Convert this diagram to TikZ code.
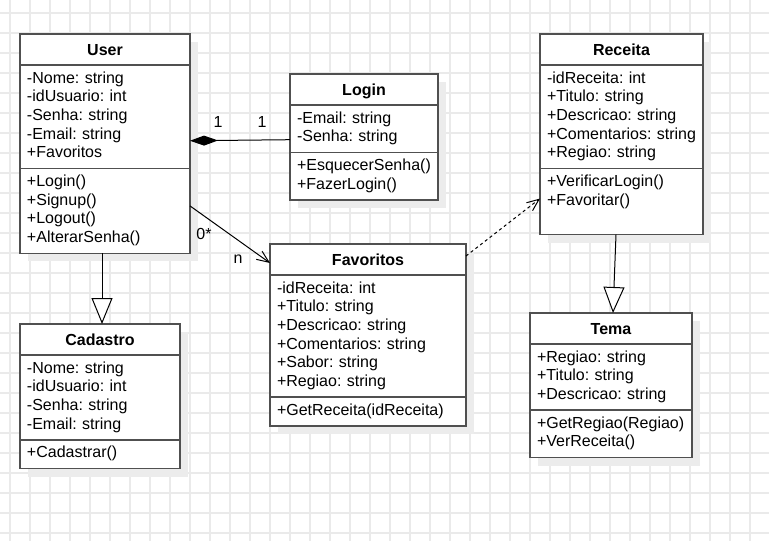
\documentclass[tikz,border=0pt]{standalone}
\usepackage{fontspec}
\setmainfont{Liberation Sans}
\usepackage{xcolor}
\usepackage{tikz}
\usetikzlibrary{positioning,shadows,arrows.meta}
\definecolor{gridgray}{RGB}{234,234,234}
\definecolor{boxgray}{RGB}{80,80,80}
\definecolor{shadowgray}{RGB}{236,236,236}
\def\umlfont{\fontsize{16pt}{18.7pt}\selectfont\frenchspacing}
\tikzset{
  classbox/.style={draw=boxgray, fill=white, line width=1.5pt, outer sep=0pt,
    inner xsep=7pt, execute at begin node=\strut, execute at end node=\strut,
    drop shadow={shadow xshift=8pt, shadow yshift=-8pt, fill=shadowgray, opacity=1}},
  classhead/.style={classbox, text width=#1, align=center, minimum height=31pt,
    inner ysep=0pt, text height=13pt, text depth=2pt, font=\umlfont\bfseries},
  classpart/.style={classbox, text width=#1, align=left, inner ysep=5pt, font=\umlfont},
  gridline/.style={draw=gridgray, line width=1.2pt},
  link/.style={draw=black, line width=1pt},
  assoc/.style={link, -{Straight Barb[length=12pt,width=10pt]}},
  depend/.style={assoc, dash pattern=on 3pt off 3pt},
  compos/.style={link, -{Diamond[length=28pt,width=10pt]}},
  inherit/.style={link, -{Triangle[length=26pt,width=21pt,fill=white]}},
  mult/.style={font=\umlfont, inner sep=0pt}
}
\begin{document}
\begin{tikzpicture}[x=1pt,y=-1pt]
  \useasboundingbox (0,0) rectangle (769,541);
  \fill[white] (0,0) rectangle (769,541);
  \foreach \gx in {10,30,...,750} \draw[gridline] (\gx,0) -- (\gx,541);
  \foreach \gy in {13,33,...,533} \draw[gridline] (0,\gy) -- (769,\gy);

  \node[classhead=156pt, anchor=north west] (user) at (20,34) {User};
  \node[classpart=156pt, below=0pt of user] (user-attr)
    {-Nome: string\\-idUsuario: int\\-Senha: string\\-Email: string\\+Favoritos};
  \node[classpart=156pt, below=0pt of user-attr] (user-ops)
    {+Login()\\+Signup()\\+Logout()\\+AlterarSenha()};

  \node[classhead=134pt, anchor=north west] (login) at (290,74) {Login};
  \node[classpart=134pt, below=0pt of login] (login-attr)
    {-Email: string\\-Senha: string};
  \node[classpart=134pt, below=0pt of login-attr] (login-ops)
    {+EsquecerSenha()\\+FazerLogin()};

  \node[classhead=149pt, anchor=north west] (receita) at (540,34) {Receita};
  \node[classpart=149pt, below=0pt of receita] (receita-attr)
    {-idReceita: int\\+Titulo: string\\+Descricao: string\\+Comentarios: string\\+Regiao: string};
  \node[classpart=149pt, below=0pt of receita-attr] (receita-ops)
    {+VerificarLogin()\\+Favoritar()\\};

  \node[classhead=146pt, anchor=north west] (cadastro) at (20,324) {Cadastro};
  \node[classpart=146pt, below=0pt of cadastro] (cadastro-attr)
    {-Nome: string\\-idUsuario: int\\-Senha: string\\-Email: string};
  \node[classpart=146pt, below=0pt of cadastro-attr] (cadastro-ops)
    {+Cadastrar()};

  \node[classhead=182pt, anchor=north west] (favoritos) at (270,244) {Favoritos};
  \node[classpart=182pt, below=0pt of favoritos] (favoritos-attr)
    {-idReceita: int\\+Titulo: string\\+Descricao: string\\+Comentarios: string\\+Sabor: string\\+Regiao: string};
  \node[classpart=182pt, below=0pt of favoritos-attr] (favoritos-ops)
    {+GetReceita(idReceita)};

  \node[classhead=148pt, anchor=north west] (tema) at (530,313) {Tema};
  \node[classpart=148pt, below=0pt of tema] (tema-attr)
    {+Regiao: string\\+Titulo: string\\+Descricao: string};
  \node[classpart=148pt, below=0pt of tema-attr] (tema-ops)
    {+GetRegiao(Regiao)\\+VerReceita()};

  \draw[compos] ([yshift=-11pt]login-attr.west) -- ([yshift=-24pt]user-attr.east)
    node[mult, pos=0.28, above=12pt] {1}
    node[mult, pos=0.72, above=12pt] {1};
  \draw[assoc] ([yshift=5pt]user-ops.east) -- ([yshift=-3.5pt]favoritos.west)
    node[mult, pos=0.175, below=12pt] {0*}
    node[mult, pos=0.6, below=14.6pt] {n};
  \draw[depend] ([yshift=3.5pt]favoritos.east) -- ([yshift=3pt]receita-ops.west);
  \draw[inherit] ([xshift=-5.5pt]receita-ops.south) -- ([xshift=2pt]tema.north);
  \draw[inherit] ([xshift=-3pt]user-ops.south) -- ([xshift=2pt]cadastro.north);

\end{tikzpicture}
\end{document}
